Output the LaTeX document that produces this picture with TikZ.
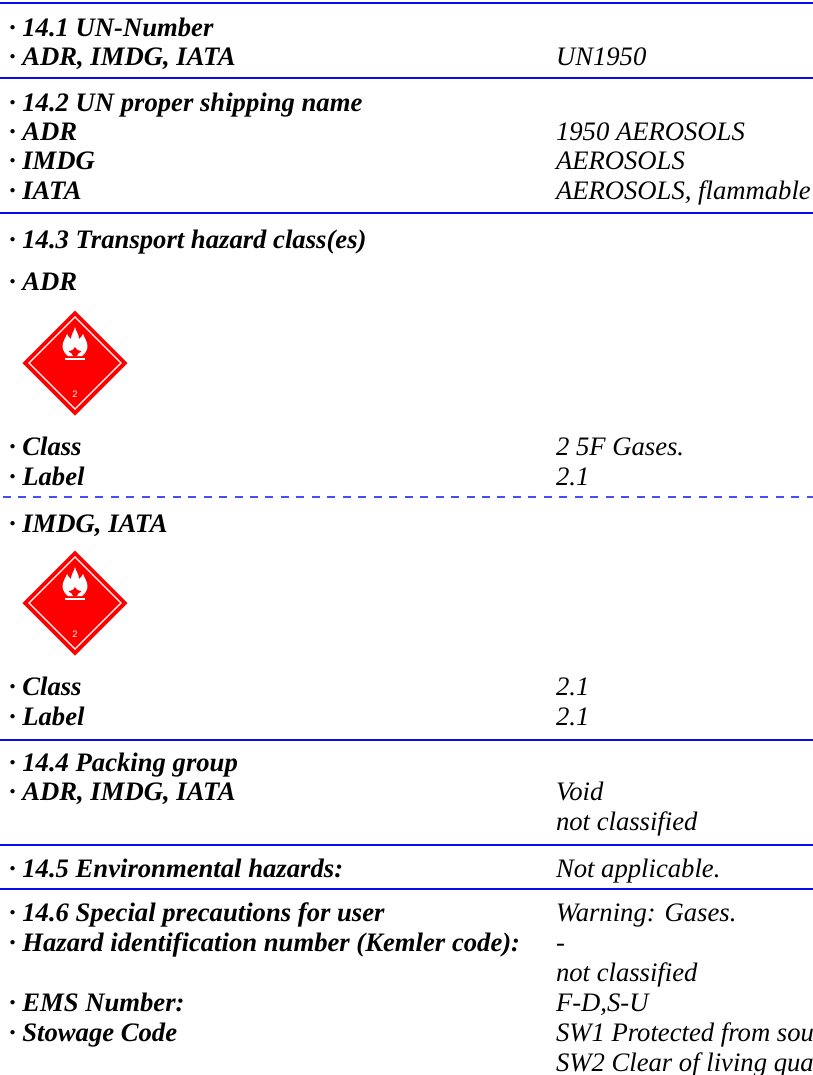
\documentclass[tikz,border=0pt]{standalone}
\usepackage{fontspec}
\setmainfont{Liberation Serif}
\newfontfamily\hazfont{Liberation Sans}
\definecolor{rule}{RGB}{10,10,235}
\definecolor{dashc}{RGB}{75,75,250}
\definecolor{hazred}{RGB}{255,0,0}
\tikzset{
  x=0.75pt,y=-0.75pt,
  lab/.style={anchor=base west,inner sep=0pt,outer sep=0pt,font=\fontsize{20pt}{22pt}\selectfont\bfseries\itshape},
  val/.style={anchor=base west,inner sep=0pt,outer sep=0pt,font=\fontsize{20pt}{22pt}\selectfont\itshape},
  bluerule/.style={draw=rule,line width=1.1pt},
  dashrule/.style={draw=dashc,line width=0.9pt,dash pattern=on 6pt off 5.6pt,dash phase=9.7pt},
  pics/hazard/.style={code={
    \fill[hazred] (0,-52.5) -- (52.5,0) -- (0,52.5) -- (-52.5,0) -- cycle;
    \draw[white,line width=0.9pt] (0,-46) -- (46,0) -- (0,46) -- (-46,0) -- cycle;
    \fill[white] (-10,-5.2) rectangle (10,-2.8);
    \fill[white] (0,-36) .. controls (0.5,-32) and (4,-29) .. (4,-24)
       .. controls (6,-25) and (7,-27) .. (8,-29)
       .. controls (9,-26) and (12.5,-21) .. (12.5,-17)
       .. controls (12.5,-13) and (10,-9) .. (7,-7)
       -- (-7,-7) .. controls (-10,-9) and (-12.5,-13) .. (-12.5,-17)
       .. controls (-12.5,-21) and (-9,-26) .. (-8,-29)
       .. controls (-7,-27) and (-6,-25) .. (-4,-24)
       .. controls (-4,-29) and (-0.5,-32) .. (0,-36) -- cycle;
    \fill[hazred] (0,-16) .. controls (0.5,-14) and (2,-13) .. (6.5,-11.5)
       .. controls (4,-10.5) and (2.5,-9) .. (1.8,-7) -- (-1.8,-7)
       .. controls (-2.5,-9) and (-4,-10.5) .. (-6.5,-11.5)
       .. controls (-2,-13) and (-0.5,-14) .. (0,-16) -- cycle;
    \node[white,font=\hazfont\fontsize{7pt}{7pt}\selectfont,inner sep=0pt] at (0,31) {2};
  }}
}
\begin{document}
\begin{tikzpicture}
\useasboundingbox (0,0) rectangle (813,1075);
\clip (0,0) rectangle (813,1075);
\foreach \n/\y in {a/3,b/78,c/213,e/740,f/845,g/889}{
  \coordinate (l\n) at (0,\y);
  \coordinate (r\n) at (813,\y);
  \draw[bluerule] (l\n) -- (r\n);
}
\coordinate (ld) at (0,497);
\coordinate (rd) at (813,497);
\draw[dashrule] (ld) -- (rd);
\node[lab] (t1) at (9,36) {· 14.1 UN-Number};
\node[lab] (t2) at (9,65) {· ADR, IMDG, IATA};
\node[val] (v2) at (556,65) {UN1950};
\node[lab] (t3) at (9,111) {· 14.2 UN proper shipping name};
\node[lab] (t4) at (9,140) {· ADR};
\node[val] (v4) at (556,140) {1950 AEROSOLS};
\node[lab] (t5) at (9,169) {· IMDG};
\node[val] (v5) at (556,169) {AEROSOLS};
\node[lab] (t6) at (9,199) {· IATA};
\node[val] (v6) at (556,199) {AEROSOLS, flammable};
\node[lab] (t7) at (9,248) {· 14.3 Transport hazard class(es)};
\node[lab] (t8) at (9,290) {· ADR};
\pic at (75,363) {hazard};
\node[lab] (t9) at (9,455) {· Class};
\node[val] (v9) at (556,455) {2 5F Gases.};
\node[lab] (t10) at (9,485) {· Label};
\node[val] (v10) at (556,485) {2.1};
\node[lab] (t11) at (9,532) {· IMDG, IATA};
\pic at (75,603) {hazard};
\node[lab] (t12) at (9,695) {· Class};
\node[val] (v12) at (556,695) {2.1};
\node[lab] (t13) at (9,725) {· Label};
\node[val] (v13) at (556,725) {2.1};
\node[lab] (t14) at (9,771) {· 14.4 Packing group};
\node[lab] (t15) at (9,800) {· ADR, IMDG, IATA};
\node[val] (v15) at (556,800) {Void};
\node[val] (v16) at (556,830) {not classified};
\node[lab] (t17) at (9,877) {· 14.5 Environmental hazards:};
\node[val] (v17) at (556,877) {Not applicable.};
\node[lab] (t18) at (9,921) {· 14.6 Special precautions for user};
\node[val] (v18) at (556,921) {Warning: Gases.};
\node[lab] (t19) at (9,951) {· Hazard identification number (Kemler code):};
\node[val] (v19) at (556,951) {-};
\node[val] (v20) at (556,981) {not classified};
\node[lab] (t21) at (9,1011) {· EMS Number:};
\node[val] (v21) at (556,1011) {F-D,S-U};
\node[lab] (t22) at (9,1041) {· Stowage Code};
\node[val] (v22) at (556,1041) {SW1 Protected from sou};
\node[val] (v23) at (556,1071) {SW2 Clear of living qua};
\end{tikzpicture}
\end{document}
